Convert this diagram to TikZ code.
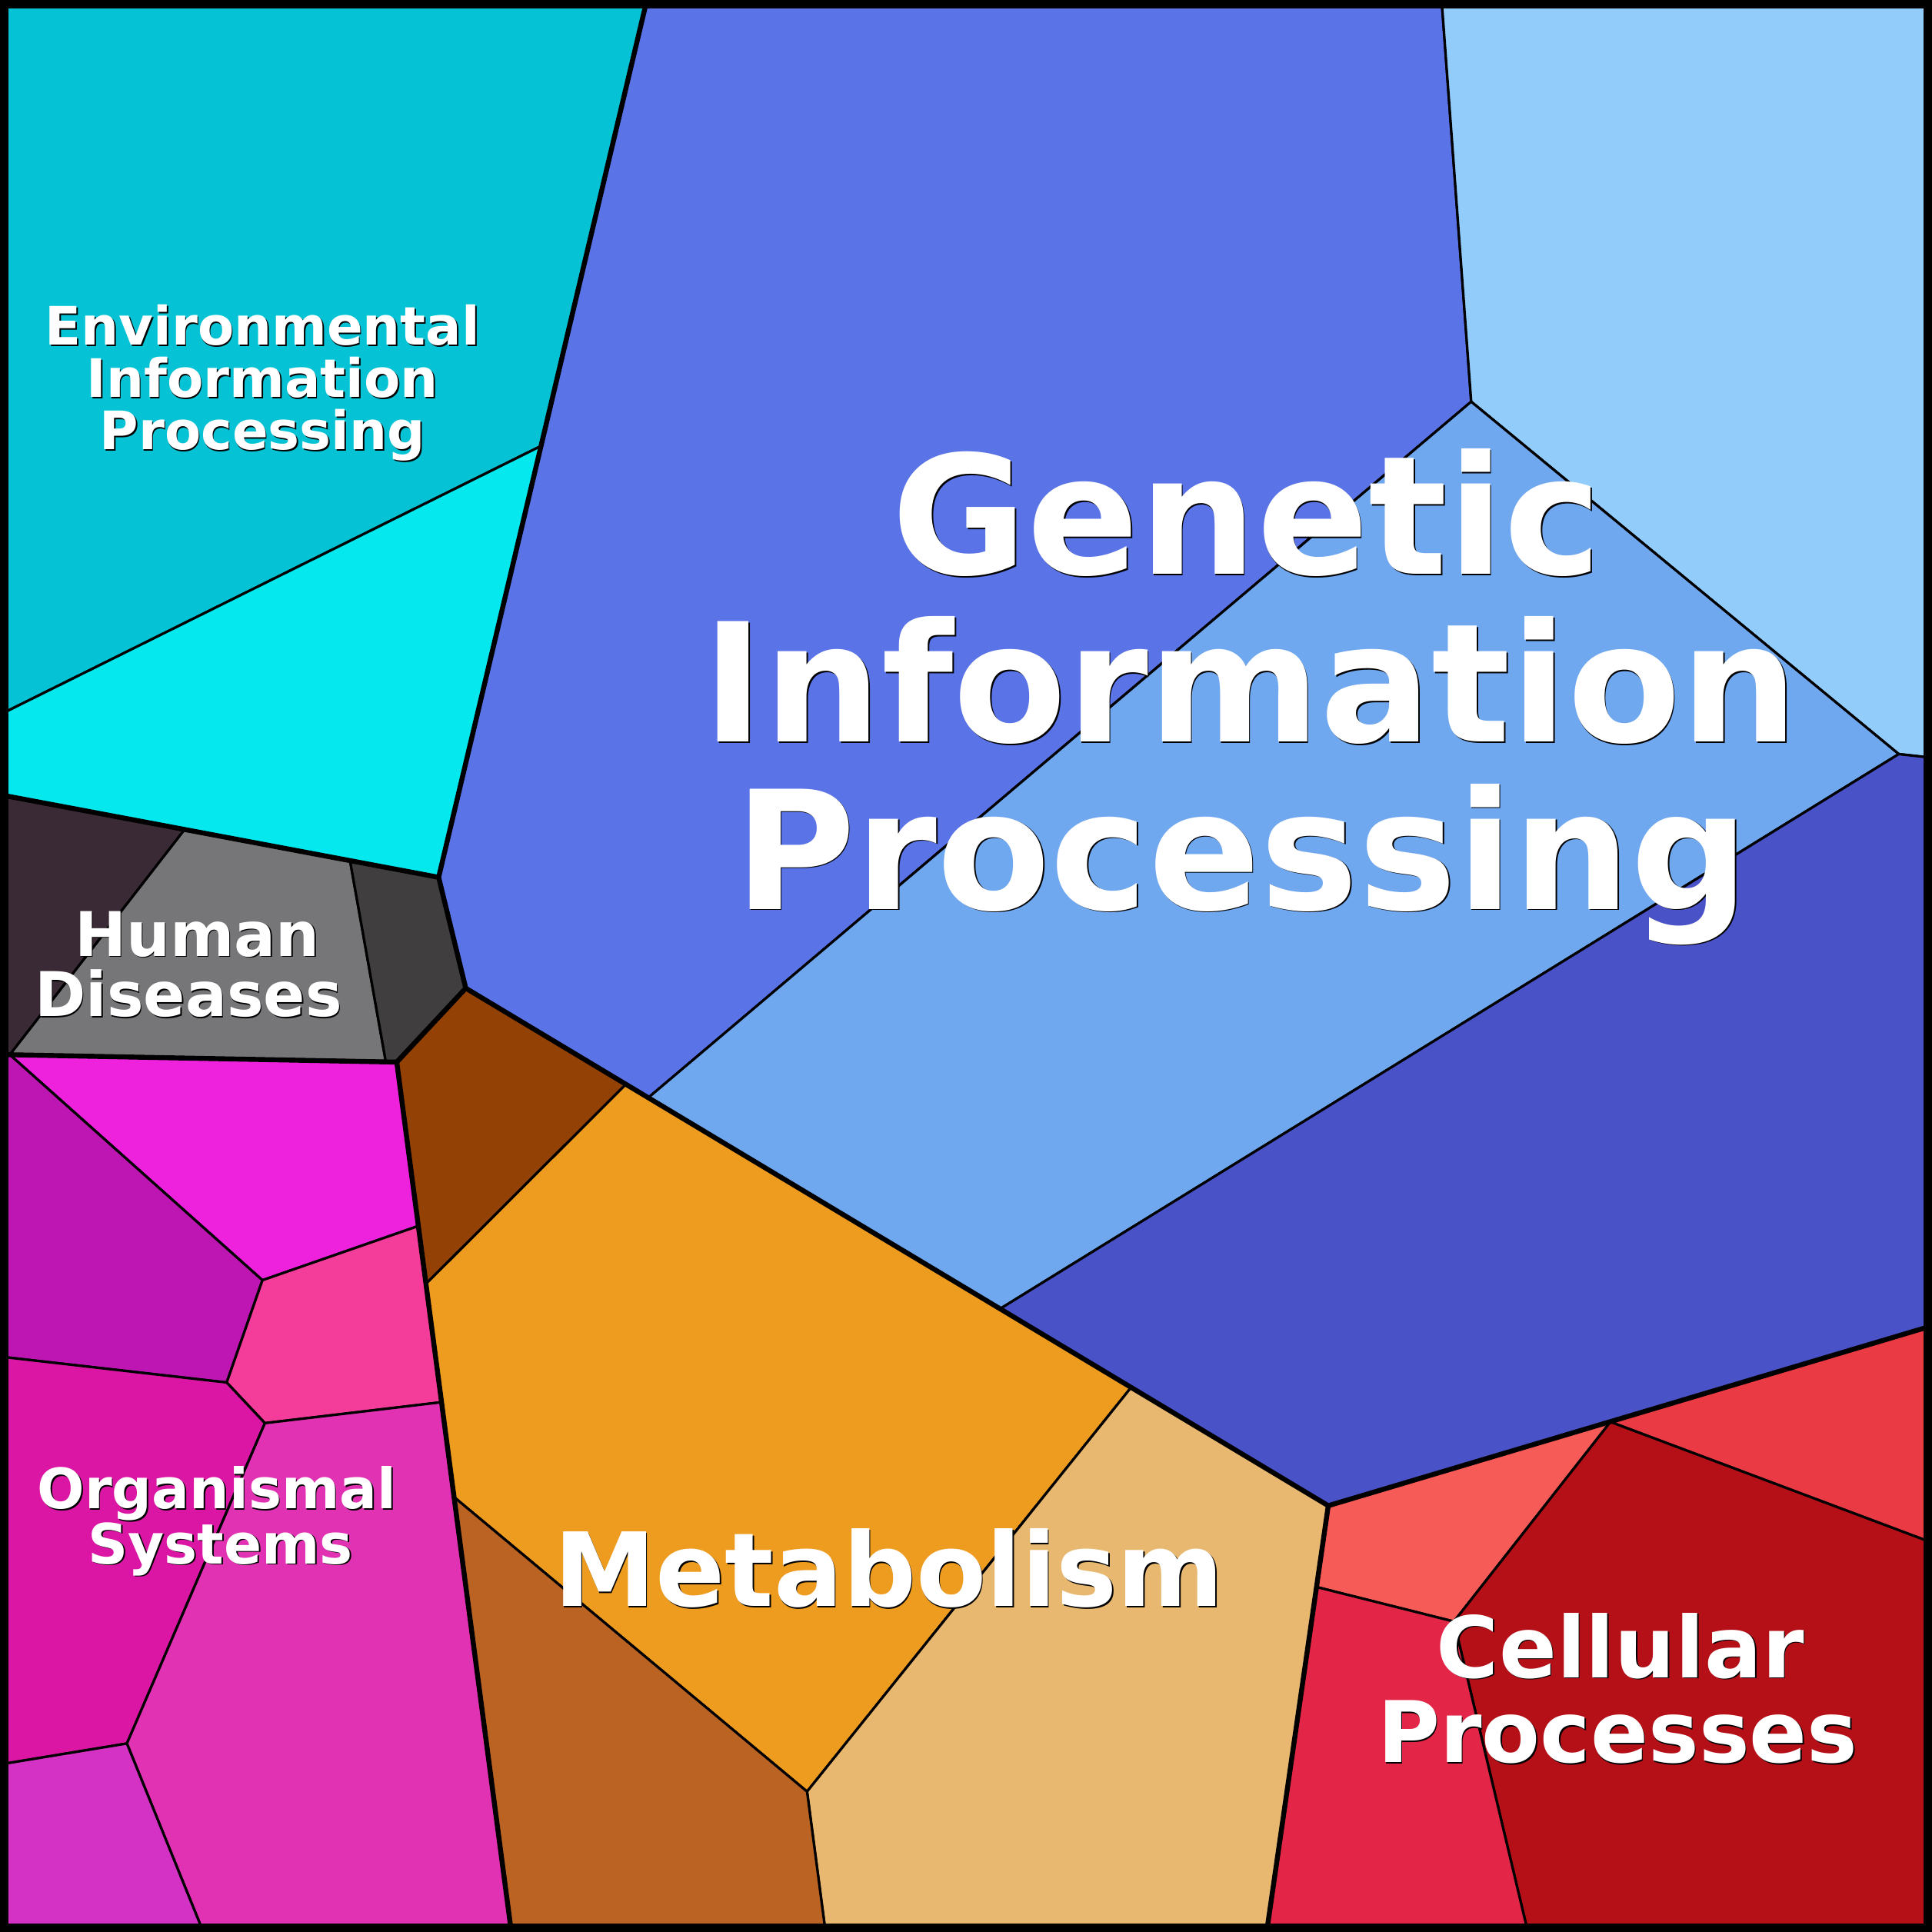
\documentclass[tikz,border=0pt]{standalone}
\usepackage{fontspec}
\newfontfamily\lblfont{DejaVu Sans}
\definecolor{envA}{HTML}{05C3D5}
\definecolor{envB}{HTML}{05E8EE}
\definecolor{genA}{HTML}{5A74E8}
\definecolor{genB}{HTML}{91CCFB}
\definecolor{genC}{HTML}{70A8F0}
\definecolor{genD}{HTML}{4A52C8}
\definecolor{humA}{HTML}{3A2A35}
\definecolor{humB}{HTML}{767577}
\definecolor{humC}{HTML}{403E3F}
\definecolor{orgA}{HTML}{EE22DD}
\definecolor{orgB}{HTML}{BE16B2}
\definecolor{orgC}{HTML}{F43C9A}
\definecolor{orgD}{HTML}{DB16A5}
\definecolor{orgE}{HTML}{E232B4}
\definecolor{orgF}{HTML}{D432C4}
\definecolor{metA}{HTML}{934104}
\definecolor{metB}{HTML}{EE9C1F}
\definecolor{metC}{HTML}{E8B870}
\definecolor{metD}{HTML}{BA6322}
\definecolor{celA}{HTML}{EA3A44}
\definecolor{celB}{HTML}{F75B58}
\definecolor{celC}{HTML}{B50F17}
\definecolor{celD}{HTML}{E32648}
\newcommand\tlabel[5]{%
  \node[lbl, text=black, font=\lblfont\bfseries\fontsize{#4}{#4}\selectfont] (#1s) at (#2+1,#3+1) {#5};
  \node[lbl, text=white, font=\lblfont\bfseries\fontsize{#4}{#4}\selectfont] (#1) at (#2,#3) {#5};}
\begin{document}
\begin{tikzpicture}[x=1pt,y=-1pt,
  cell/.style={draw=black, line width=2pt, line join=round},
  major/.style={draw=black, line width=4pt, line join=round, line cap=round},
  lbl/.style={anchor=base, inner sep=0pt, outer sep=0pt}]
\useasboundingbox (0,0) rectangle (1568,1568);
\begin{scope}
\clip (0,0) rectangle (1568,1568);
% Environmental Information Processing
\filldraw[cell, fill=envA] (0,0) -- (525,0) -- (439,362) -- (0,580) -- cycle;
\filldraw[cell, fill=envB] (0,580) -- (439,362) -- (356,712) -- (0,645) -- cycle;
% Genetic Information Processing
\filldraw[cell, fill=genA] (525,0) -- (1170,0) -- (1194,326) -- (526,891) -- (378,802) -- (356,712) -- cycle;
\filldraw[cell, fill=genB] (1170,0) -- (1568,0) -- (1568,615) -- (1541,612) -- (1194,326) -- cycle;
\filldraw[cell, fill=genC] (1194,326) -- (1541,612) -- (812,1062) -- (526,891) -- cycle;
\filldraw[cell, fill=genD] (1541,612) -- (1568,615) -- (1568,1076) -- (1078,1222) -- (812,1062) -- cycle;
% Human Diseases
\filldraw[cell, fill=humA] (0,645) -- (150,673) -- (8,856) -- (0,856) -- cycle;
\filldraw[cell, fill=humB] (150,673) -- (284,698) -- (313,861) -- (8,856) -- cycle;
\filldraw[cell, fill=humC] (284,698) -- (356,712) -- (378,802) -- (322,862) -- (313,861) -- cycle;
% Organismal Systems
\filldraw[cell, fill=orgA] (8,856) -- (322,862) -- (339.5,995) -- (213,1039) -- cycle;
\filldraw[cell, fill=orgB] (0,856) -- (8,856) -- (213,1039) -- (184,1122) -- (0,1101) -- cycle;
\filldraw[cell, fill=orgC] (213,1039) -- (339.5,995) -- (358.4,1138) -- (215,1155) -- (184,1122) -- cycle;
\filldraw[cell, fill=orgD] (0,1101) -- (184,1122) -- (215,1155) -- (103,1415) -- (0,1432) -- cycle;
\filldraw[cell, fill=orgE] (215,1155) -- (358.4,1138) -- (415,1568) -- (165,1568) -- (103,1415) -- cycle;
\filldraw[cell, fill=orgF] (0,1432) -- (103,1415) -- (165,1568) -- (0,1568) -- cycle;
% Metabolism
\filldraw[cell, fill=metA] (378,802) -- (508,880) -- (345.7,1042) -- (322,862) -- cycle;
\filldraw[cell, fill=metB] (508,880) -- (918,1126) -- (655,1454) -- (368.5,1215) -- (345.7,1042) -- cycle;
\filldraw[cell, fill=metC] (918,1126) -- (1078,1222) -- (1028,1568) -- (670,1568) -- (655,1454) -- cycle;
\filldraw[cell, fill=metD] (368.5,1215) -- (655,1454) -- (670,1568) -- (415,1568) -- cycle;
% Cellular Processes
\filldraw[cell, fill=celA] (1307,1154) -- (1568,1076) -- (1568,1252) -- cycle;
\filldraw[cell, fill=celB] (1078,1222) -- (1307,1154) -- (1180,1316) -- (1068.5,1288) -- cycle;
\filldraw[cell, fill=celC] (1307,1154) -- (1568,1252) -- (1568,1568) -- (1240,1568) -- (1180,1316) -- cycle;
\filldraw[cell, fill=celD] (1068.5,1288) -- (1180,1316) -- (1240,1568) -- (1028,1568) -- cycle;
% top-level boundaries
\draw[major] (525,0) -- (356,712) -- (378,802) -- (1078,1222) -- (1568,1076);
\draw[major] (0,645) -- (356,712);
\draw[major] (1078,1222) -- (1028,1568);
\draw[major] (0,856) -- (8,856) -- (322,862) -- (378,802);
\draw[major] (322,862) -- (415,1568);
\end{scope}
\draw[line width=7pt] (3.5,3.5) rectangle (1564.5,1564.5);
% labels
\tlabel{gen1}{1012}{466}{134}{Genetic}
\tlabel{gen2}{1015}{602}{134}{Information}
\tlabel{gen3}{1008}{738}{134}{Processing}
\tlabel{env1}{213}{280}{43}{Environmental}
\tlabel{env2}{213}{322.6}{43}{Information}
\tlabel{env3}{213}{365}{43}{Processing}
\tlabel{hum1}{160}{776}{50}{Human}
\tlabel{hum2}{153}{825}{50}{Diseases}
\tlabel{org1}{176}{1224.5}{45.2}{Organismal}
\tlabel{org2}{179}{1269}{45.2}{Systems}
\tlabel{met1}{721.5}{1303.6}{83}{Metabolism}
\tlabel{cel1}{1315}{1361.5}{69}{Cellular}
\tlabel{cel2}{1313}{1430.5}{69}{Processes}
\end{tikzpicture}
\end{document}
